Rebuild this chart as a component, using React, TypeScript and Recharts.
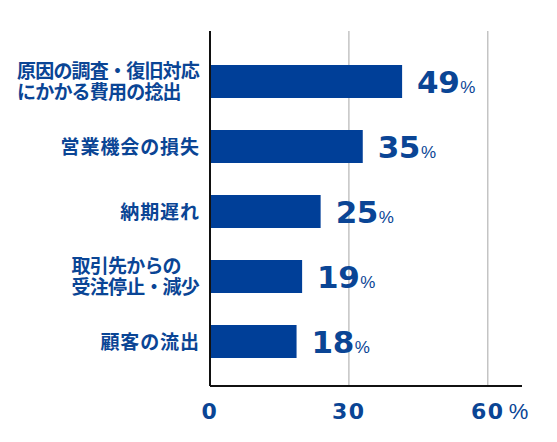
import React from "react";
import { BarChart, Bar, XAxis, YAxis, CartesianGrid, LabelList } from "recharts";

// Categories (top to bottom), "\n" marks the manual line break
const causes = [
  "原因の調査・復旧対応\nにかかる費用の捻出",
  "営業機会の損失",
  "納期遅れ",
  "取引先からの\n受注停止・減少",
  "顧客の流出",
];
// Printed percentages
const shares = [49, 35, 25, 19, 18];
// Where each bar actually ends when read against the axis
const barReading = [41.5, 33.0, 23.9, 19.9, 18.7];
const axisTicks = [0, 30, 60];
const axisUnit = "%";

const data = causes.map((name, i) => ({ name, share: shares[i], reading: barReading[i] }));

const BLUE = "#0a4595";
const BAR = "#003f98";
const NUM_FONT = "'DejaVu Sans', sans-serif";
const LABEL_SIZE = 19;

// wrapped labels are left aligned inside a right aligned block
const CauseTick = ({ x, y, payload }: any) => {
  const lines: string[] = String(payload.value).split("\n");
  const multi = lines.length > 1;
  const spacing = multi ? -0.8 : 0.9;
  const first = multi ? y - 3.5 : y + 7;
  const longest = Math.max(...lines.map((l) => l.length));
  const left = x - longest * (LABEL_SIZE + spacing);
  return (
    <text
      x={multi ? left : x}
      y={first}
      textAnchor={multi ? "start" : "end"}
      fill={BLUE}
      fontSize={LABEL_SIZE}
      fontWeight={700}
      fontFamily="'Noto Sans CJK JP', sans-serif"
      letterSpacing={spacing}
    >
      {lines.map((line, i) => (
        <tspan key={i} x={multi ? left : x + spacing} y={first + i * 20.5}>
          {line}
        </tspan>
      ))}
    </text>
  );
};

const PercentTick = ({ x, y, payload, index }: any) => (
  <g>
    <text
      x={x}
      y={y + 33}
      textAnchor="middle"
      fill={BLUE}
      fontSize={22}
      fontWeight={700}
      fontFamily={NUM_FONT}
      letterSpacing={1.5}
    >
      {payload.value}
    </text>
    {index === axisTicks.length - 1 && (
      <text x={x + 21} y={y + 33} fill={BLUE} fontSize={22} fontFamily="'Liberation Sans', Arial, sans-serif">
        {axisUnit}
      </text>
    )}
  </g>
);

const ShareLabel = ({ x, y, width, height, value }: any) => (
  <text x={x + width + 15} y={y + height / 2 + 11.6} fill={BLUE} fontFamily={NUM_FONT}>
    <tspan fontSize={31} fontWeight={700} letterSpacing={-0.5}>
      {value}
    </tspan>
    <tspan fontSize={17} dx={1} fontFamily="'Liberation Sans', Arial, sans-serif">
      %
    </tspan>
  </text>
);

export default function App() {
  return (
    <div style={{ position: "absolute", left: 0, top: 0, width: 557, height: 442, background: "#fff" }}>
      <BarChart
        width={557}
        height={442}
        data={data}
        layout="vertical"
        margin={{ top: 31, right: 35, bottom: 26, left: 0 }}
      >
        <CartesianGrid horizontal={false} syncWithTicks stroke="#c4c4c4" strokeWidth={1.5} />
        <XAxis
          type="number"
          domain={[0, 67.4]}
          allowDataOverflow
          ticks={axisTicks}
          height={30}
          tickLine={false}
          tickSize={0}
          tickMargin={0}
          axisLine={{ stroke: "#111", strokeWidth: 2 }}
          tick={<PercentTick />}
          interval={0}
        />
        <YAxis
          type="category"
          dataKey="name"
          width={210}
          tickLine={false}
          tickSize={0}
          tickMargin={11}
          axisLine={{ stroke: "#111", strokeWidth: 2 }}
          padding={{ top: 18, bottom: 12 }}
          tick={<CauseTick />}
          interval={0}
        />
        <Bar dataKey="reading" fill={BAR} barSize={33} isAnimationActive={false}>
          <LabelList dataKey="share" content={<ShareLabel />} />
        </Bar>
      </BarChart>
    </div>
  );
}
